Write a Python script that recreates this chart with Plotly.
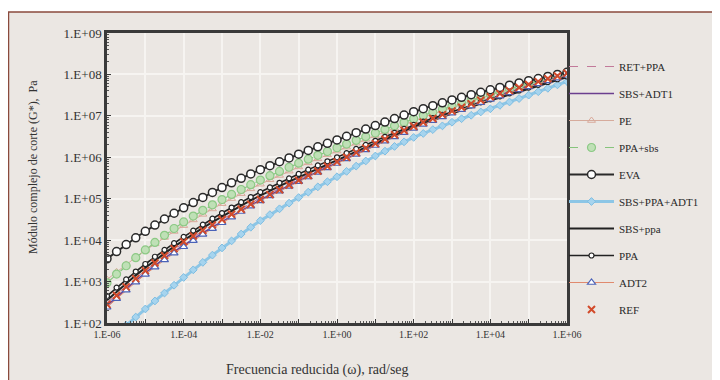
import plotly.graph_objects as go

# log10 of reduced frequency (rad/s)
freq_exp = [-6.0, -5.75, -5.5, -5.25, -5.0, -4.75, -4.5, -4.25,
            -4.0, -3.75, -3.5, -3.25, -3.0, -2.75, -2.5, -2.25,
            -2.0, -1.75, -1.5, -1.25, -1.0, -0.75, -0.5, -0.25,
            0.0, 0.25, 0.5, 0.75, 1.0, 1.25, 1.5, 1.75,
            2.0, 2.25, 2.5, 2.75, 3.0, 3.25, 3.5, 3.75,
            4.0, 4.25, 4.5, 4.75, 5.0, 5.25, 5.5, 5.75, 6.0]

# log10 of |G*| (Pa) for each binder
ret_ppa = [2.48, 2.69, 2.891, 3.084, 3.269, 3.447, 3.617, 3.779,
           3.93, 4.077, 4.222, 4.364, 4.50, 4.635, 4.767, 4.896,
           5.02, 5.135, 5.249, 5.361, 5.472, 5.581, 5.689, 5.795,
           5.90, 6.009, 6.118, 6.225, 6.331, 6.435, 6.538, 6.639,
           6.74, 6.834, 6.926, 7.016, 7.104, 7.191, 7.276, 7.359,
           7.44, 7.517, 7.593, 7.667, 7.74, 7.812, 7.882, 7.951, 8.02]
sbs_adt1 = [2.42, 2.63, 2.832, 3.026, 3.212, 3.391, 3.562, 3.725,
            3.88, 4.028, 4.173, 4.315, 4.45, 4.584, 4.716, 4.843,
            4.97, 5.088, 5.204, 5.319, 5.432, 5.544, 5.654, 5.763,
            5.87, 5.979, 6.087, 6.194, 6.299, 6.403, 6.506, 6.608,
            6.71, 6.805, 6.898, 6.989, 7.079, 7.167, 7.253, 7.337,
            7.42, 7.497, 7.573, 7.647, 7.72, 7.792, 7.862, 7.931, 8.00]
pe = [3.05, 3.235, 3.414, 3.586, 3.752, 3.911, 4.064, 4.21,
      4.35, 4.488, 4.622, 4.753, 4.88, 5.003, 5.122, 5.238,
      5.35, 5.457, 5.562, 5.665, 5.766, 5.865, 5.962, 6.057,
      6.15, 6.245, 6.339, 6.432, 6.524, 6.614, 6.703, 6.792,
      6.88, 6.962, 7.043, 7.122, 7.20, 7.277, 7.353, 7.427,
      7.50, 7.569, 7.637, 7.704, 7.77, 7.834, 7.897, 7.959, 8.02]
ppa_sbs = [2.97, 3.18, 3.382, 3.577, 3.764, 3.944, 4.116, 4.281,
           4.44, 4.582, 4.719, 4.852, 4.98, 5.104, 5.223, 5.338,
           5.45, 5.555, 5.658, 5.759, 5.858, 5.954, 6.048, 6.14,
           6.23, 6.32, 6.409, 6.498, 6.586, 6.673, 6.759, 6.845,
           6.93, 7.008, 7.085, 7.16, 7.234, 7.307, 7.379, 7.45,
           7.52, 7.586, 7.651, 7.715, 7.778, 7.84, 7.901, 7.961, 8.02]
eva = [3.55, 3.725, 3.894, 4.057, 4.214, 4.365, 4.51, 4.649,
       4.78, 4.908, 5.032, 5.153, 5.27, 5.383, 5.492, 5.598,
       5.70, 5.797, 5.892, 5.985, 6.076, 6.165, 6.252, 6.337,
       6.42, 6.508, 6.595, 6.681, 6.766, 6.851, 6.935, 7.018,
       7.10, 7.174, 7.246, 7.316, 7.384, 7.448, 7.51, 7.57,
       7.63, 7.686, 7.741, 7.795, 7.848, 7.90, 7.951, 8.001, 8.05]
sbs_ppa_adt1 = [1.55, 1.75, 1.948, 2.144, 2.339, 2.532, 2.723, 2.912,
                3.10, 3.283, 3.463, 3.639, 3.812, 3.982, 4.148, 4.311,
                4.47, 4.615, 4.756, 4.894, 5.028, 5.159, 5.286, 5.41,
                5.53, 5.66, 5.787, 5.911, 6.031, 6.148, 6.262, 6.373,
                6.48, 6.575, 6.668, 6.758, 6.846, 6.931, 7.014, 7.094,
                7.17, 7.253, 7.335, 7.418, 7.50, 7.583, 7.665, 7.748, 7.83]
sbs_ppa = [2.55, 2.758, 2.957, 3.15, 3.334, 3.512, 3.681, 3.844,
           4.00, 4.15, 4.296, 4.437, 4.574, 4.707, 4.836, 4.96,
           5.08, 5.194, 5.305, 5.414, 5.52, 5.625, 5.728, 5.827,
           5.93, 6.033, 6.136, 6.237, 6.338, 6.437, 6.536, 6.633,
           6.73, 6.815, 6.898, 6.98, 7.06, 7.14, 7.218, 7.295,
           7.37, 7.443, 7.515, 7.586, 7.656, 7.725, 7.794, 7.862, 7.93]
ppa = [2.65, 2.855, 3.052, 3.242, 3.424, 3.599, 3.766, 3.926,
       4.08, 4.23, 4.376, 4.517, 4.654, 4.787, 4.916, 5.04,
       5.16, 5.273, 5.384, 5.492, 5.598, 5.702, 5.804, 5.903,
       6.00, 6.101, 6.201, 6.30, 6.398, 6.495, 6.591, 6.686,
       6.78, 6.862, 6.943, 7.022, 7.10, 7.177, 7.253, 7.327,
       7.40, 7.472, 7.543, 7.613, 7.682, 7.75, 7.817, 7.884, 7.95]
adt2 = [2.38, 2.59, 2.792, 2.986, 3.172, 3.351, 3.522, 3.685,
        3.84, 3.99, 4.137, 4.28, 4.42, 4.557, 4.691, 4.821,
        4.95, 5.068, 5.184, 5.299, 5.412, 5.524, 5.634, 5.743,
        5.85, 5.96, 6.069, 6.177, 6.284, 6.389, 6.493, 6.597,
        6.70, 6.794, 6.886, 6.976, 7.064, 7.151, 7.236, 7.319,
        7.40, 7.477, 7.553, 7.627, 7.70, 7.772, 7.842, 7.911, 7.98]
ref = [2.45, 2.665, 2.872, 3.072, 3.264, 3.449, 3.626, 3.796,
       3.96, 4.10, 4.236, 4.369, 4.498, 4.624, 4.746, 4.865,
       4.98, 5.098, 5.215, 5.331, 5.446, 5.559, 5.671, 5.782,
       5.89, 6.002, 6.113, 6.222, 6.33, 6.437, 6.543, 6.647,
       6.75, 6.845, 6.938, 7.029, 7.118, 7.206, 7.292, 7.377,
       7.46, 7.536, 7.61, 7.683, 7.755, 7.826, 7.895, 7.963, 8.03]

x_tick_exp = [-6, -5, -4, -3, -2, -1, 0, 1, 2, 3, 4, 5, 6]
x_tick_text = ["1.E-06", "", "1.E-04", "", "1.E-02", "", "1.E+00", "",
               "1.E+02", "", "1.E+04", "", "1.E+06"]
y_tick_exp = [2, 3, 4, 5, 6, 7, 8, 9]
y_tick_text = ["1.E+02", "1.E+03", "1.E+04", "1.E+05", "1.E+06",
               "1.E+07", "1.E+08", "1.E+09"]

xs = [10 ** e for e in freq_exp]
def g(v):
    return [10 ** e for e in v]

SERIF = "Liberation Serif, Times New Roman, serif"
BG = "#ebe7e3"

fig = go.Figure()
series = [
    ("RET+PPA", ret_ppa, dict(color="#c27a9a", width=1.2, dash="dash"), None, "lines"),
    ("SBS+ADT1", sbs_adt1, dict(color="#6b3f8f", width=1.6), None, "lines"),
    ("PE", pe, dict(color="#d6ab9c", width=1), dict(symbol="triangle-up-open", size=7, color="#d9a99a", line=dict(width=1)), "lines+markers"),
    ("PPA+sbs", ppa_sbs, dict(color="#86c47c", width=1.2, dash="dash"), dict(symbol="circle", size=8, color="#bfe0b6", line=dict(color="#8cc985", width=1.2)), "lines+markers"),
    ("EVA", eva, dict(color="#2a2a2a", width=2), dict(symbol="circle", size=8, color="white", line=dict(color="#2a2a2a", width=1.5)), "lines+markers"),
    ("SBS+PPA+ADT1", sbs_ppa_adt1, dict(color="#8cc6e6", width=3), dict(symbol="diamond", size=6, color="#a6d4ee", line=dict(color="#7dbde2", width=1)), "lines+markers"),
    ("SBS+ppa", sbs_ppa, dict(color="#222222", width=2), None, "lines"),
    ("PPA", ppa, dict(color="#222222", width=1.6), dict(symbol="circle", size=5, color="white", line=dict(color="#222222", width=1.2)), "lines+markers"),
    ("ADT2", adt2, dict(color="#e08a6e", width=1), dict(symbol="triangle-up", size=7, color="white", line=dict(color="#4a62b8", width=1.2)), "lines+markers"),
    ("REF", ref, None, dict(symbol="x-thin", size=7, color="#d24a2a", line=dict(color="#d24a2a", width=2)), "markers"),
]
for i, (name, vals, line, marker, mode) in enumerate(series):
    kw = dict(x=xs, y=g(vals), name=name, mode=mode, legendgroup=f"g{i}")
    if line is not None:
        kw["line"] = line
    if marker is not None:
        kw["marker"] = marker
    fig.add_trace(go.Scatter(**kw))

# the page adds an 8px body margin; figure coordinates = screen - 8
L, R, T, B = 99, 161, 25, 65
W, H = 720, 380
pw, ph = W - L - R, H - T - B
def px(xp):
    return (xp - L) / pw
def py(yp):
    return (H - B - yp) / ph

minor_y = [m * 10 ** k for k in range(2, 9) for m in range(2, 10)]
minor_x = [m * 10 ** k for k in range(-6, 6) for m in range(2, 10)]

fig.update_layout(
    width=W, height=H,
    margin=dict(l=L, r=R, t=T, b=B),
    paper_bgcolor=BG, plot_bgcolor=BG,
    font=dict(family=SERIF, size=11, color="#333333"),
    showlegend=True,
    legend=dict(x=px(556), y=py(44), xanchor="left", yanchor="top",
                bgcolor="rgba(0,0,0,0)", font=dict(family=SERIF, size=11, color="#2a2a2a"),
                tracegroupgap=8, itemwidth=45, traceorder="grouped"),
    xaxis=dict(type="log", range=[-6, 6], tickmode="array",
               tickvals=[10 ** e for e in x_tick_exp], ticktext=x_tick_text,
               showgrid=True, gridcolor="#f6f4f1", gridwidth=1.5,
               showline=True, linecolor="#3a3a3a", linewidth=2.5, mirror=True,
               ticks="inside", ticklen=4, tickcolor="#3a3a3a",
               minor=dict(tickvals=minor_x, ticks="inside", ticklen=2, tickcolor="#555555", showgrid=False),
               zeroline=False, automargin=False,
               tickfont=dict(family=SERIF, size=10, color="#333333")),
    yaxis=dict(type="log", range=[2, 9], tickmode="array",
               tickvals=[10 ** e for e in y_tick_exp], ticktext=y_tick_text,
               showgrid=True, gridcolor="#f6f4f1", gridwidth=1.5,
               showline=True, linecolor="#3a3a3a", linewidth=2.5, mirror=True,
               ticks="inside", ticklen=4, tickcolor="#3a3a3a",
               minor=dict(tickvals=minor_y, ticks="inside", ticklen=2, tickcolor="#555555", showgrid=False),
               zeroline=False, automargin=False,
               tickfont=dict(family=SERIF, size=13, color="#333333")),
    shapes=[
        dict(type="rect", xref="paper", yref="paper", x0=px(-20), x1=px(730), y0=py(4), y1=py(-20),
             fillcolor="white", line=dict(width=0), layer="below"),
        dict(type="line", xref="paper", yref="paper", x0=px(0), x1=px(730), y0=py(4), y1=py(4),
             line=dict(color="#8a4a3c", width=1.5)),
        dict(type="line", xref="paper", yref="paper", x0=px(0.5), x1=px(0.5), y0=py(4), y1=py(390),
             line=dict(color="#8a4a3c", width=1.5)),
    ],
    annotations=[
        dict(text="Módulo complejo de corte (G*),  Pa", xref="paper", yref="paper",
             x=px(25), y=py(159), textangle=-90, showarrow=False,
             xanchor="center", yanchor="middle",
             font=dict(family=SERIF, size=12, color="#333333")),
        dict(text="Frecuencia reducida (ω), rad/seg", xref="paper", yref="paper",
             x=px(309), y=py(362), showarrow=False,
             xanchor="center", yanchor="middle",
             font=dict(family=SERIF, size=14, color="#333333")),
    ],
)

fig.write_html("out.html")
